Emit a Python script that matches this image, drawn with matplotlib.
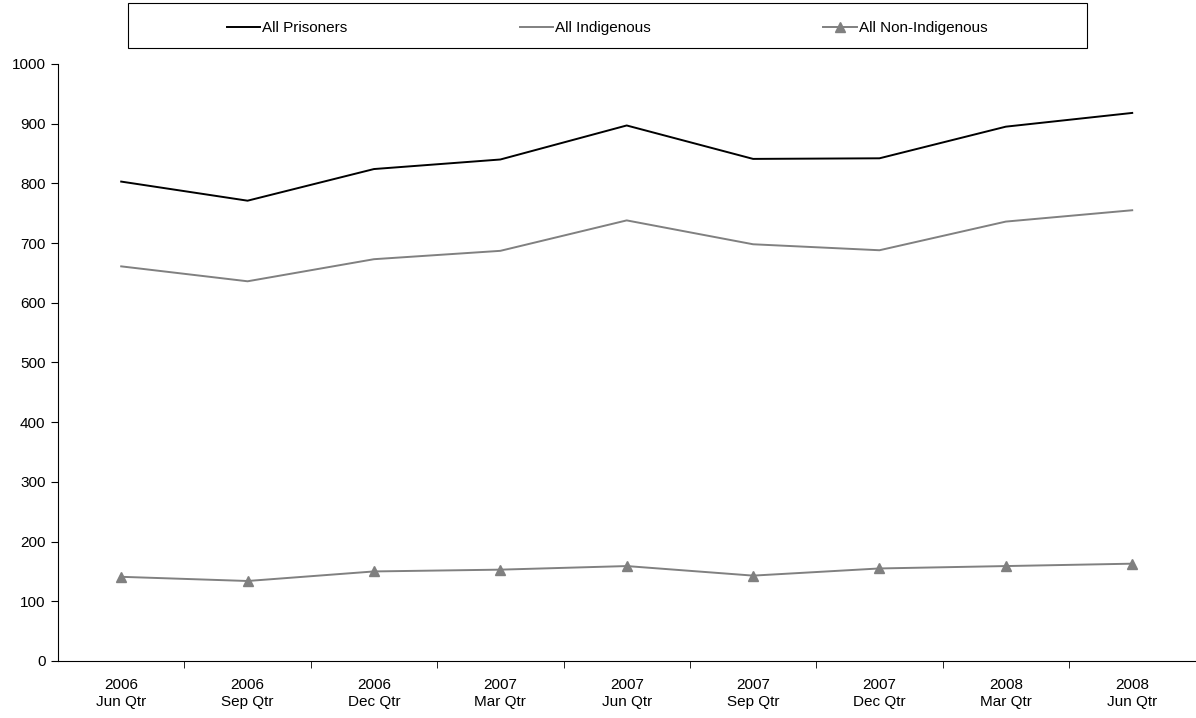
import numpy as np
import matplotlib.pyplot as plt
from matplotlib.patches import Rectangle

quarters = ['2006\nJun Qtr', '2006\nSep Qtr', '2006\nDec Qtr', '2007\nMar Qtr', '2007\nJun Qtr',
            '2007\nSep Qtr', '2007\nDec Qtr', '2008\nMar Qtr', '2008\nJun Qtr']
all_prisoners = [803, 771, 824, 840, 897, 841, 842, 895, 918]
all_indigenous = [661, 636, 673, 687, 738, 698, 688, 736, 755]
all_non_indigenous = [141, 134, 150, 153, 159, 143, 155, 159, 163]

plt.rcParams['font.family'] = ['Liberation Sans', 'DejaVu Sans']

fig = plt.figure(figsize=(11.96, 7.18), dpi=100)
ax = fig.add_axes([0.0485, 0.0794, 0.951, 0.8315])

x = np.arange(len(quarters))
ax.plot(x, all_prisoners, color='black', lw=1.4, label='All Prisoners')
ax.plot(x, all_indigenous, color='#808080', lw=1.4, label='All Indigenous')
ax.plot(x, all_non_indigenous, color='#808080', lw=1.4, marker='^', markersize=7,
        label='All Non-Indigenous')

ax.set_xlim(-0.5, len(quarters) - 0.5)
ax.set_ylim(0, 1000)
ax.set_yticks(np.arange(0, 1001, 100))
ax.set_xticks(x)
ax.set_xticklabels(quarters, linespacing=1.3)
ax.set_xticks(np.arange(0.5, len(quarters) - 1, 1), minor=True)
ax.tick_params(axis='x', which='major', length=0, labelsize=11, pad=12)
ax.tick_params(axis='x', which='minor', length=5, direction='out')
ax.tick_params(axis='y', length=5, direction='out', labelsize=11, pad=4)
ax.spines['top'].set_visible(False)
ax.spines['right'].set_visible(False)

# legend box
fig.patches.append(Rectangle((128 / 1196, 1 - 48 / 718), (1087 - 128) / 1196, 45 / 718,
                             transform=fig.transFigure, fill=False, edgecolor='black', lw=0.8))
leg = fig.legend(loc='center', bbox_to_anchor=(607 / 1196, 1 - 28 / 718), ncol=3,
                 frameon=False, prop={'size': 11},
                 handlelength=2.2, handletextpad=0.1, columnspacing=11.3, borderaxespad=0)

plt.savefig('out.png', dpi=100)
